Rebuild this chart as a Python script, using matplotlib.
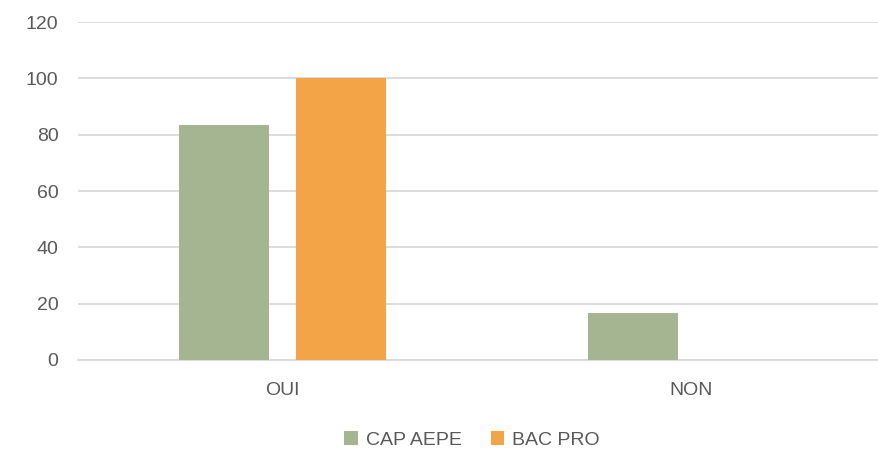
import numpy as np
import matplotlib
matplotlib.use("Agg")
import matplotlib.pyplot as plt

categories = ["OUI", "NON"]
series_names = ["CAP AEPE", "BAC PRO"]
cap_aepe = [83.33, 16.67]
bac_pro = [100, 0]
colors = ["#A5B592", "#F3A447"]
text_color = "#595959"
grid_color = "#D9D9D9"

plt.rcParams["font.family"] = ["Liberation Sans", "DejaVu Sans"]

fig = plt.figure(figsize=(8.79, 4.5), dpi=100)
# the original chart is cut off on the right, so the axes run past the figure edge
ax = fig.add_axes([78 / 879, 90 / 450, 818 / 879, 338 / 450])

x = np.arange(len(categories))
w = 0.221
off = 0.1425
ax.bar(x - off, cap_aepe, w, color=colors[0], label=series_names[0], zorder=3)
ax.bar(x + off, bac_pro, w, color=colors[1], label=series_names[1], zorder=3)

ax.set_xlim(-0.5, 1.5)
ax.set_ylim(0, 120)
ax.set_yticks(range(0, 121, 20))
ax.set_xticks(x)
ax.set_xticklabels(categories)
ax.yaxis.grid(True, color=grid_color, linewidth=1.3, zorder=0)
for s in ["top", "right", "left"]:
    ax.spines[s].set_visible(False)
ax.spines["bottom"].set_color(grid_color)
ax.spines["bottom"].set_linewidth(1.3)
ax.tick_params(axis="both", length=0, labelsize=14, colors=text_color)
ax.tick_params(axis="y", pad=14)
ax.tick_params(axis="x", pad=16)

fig.legend(loc="center", bbox_to_anchor=(472 / 879, 1 - 440 / 450), ncol=2,
           frameon=False, fontsize=14, labelcolor=text_color,
           handlelength=0.7, handleheight=0.7, handletextpad=0.4, columnspacing=1.5)

fig.savefig("out.png", dpi=100)
